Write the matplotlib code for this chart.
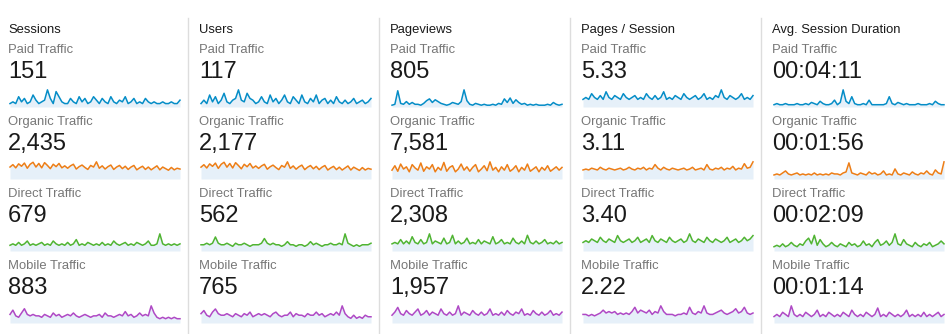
import matplotlib.pyplot as plt
from matplotlib.lines import Line2D
import numpy as np

plt.rcParams['font.family'] = ['Liberation Sans', 'DejaVu Sans']

W, H = 951, 334

metrics = ["Sessions", "Users", "Pageviews", "Pages / Session", "Avg. Session Duration"]
segments = ["Paid Traffic", "Organic Traffic", "Direct Traffic", "Mobile Traffic"]
seg_colors = ["#058dc7", "#ed7e17", "#50b432", "#af49c5"]

# totals shown under each segment label
sessions_totals = ["151", "2,435", "679", "883"]
users_totals = ["117", "2,177", "562", "765"]
pageviews_totals = ["805", "7,581", "2,308", "1,957"]
pps_totals = ["5.33", "3.11", "3.40", "2.22"]
duration_totals = ["00:04:11", "00:01:56", "00:02:09", "00:01:14"]

# daily values for the sparklines
sessions_paid = [2,3,2,6,3,5,2,3,7,4, 2,3,4,10,5,2,9,6,3,2, 2,5,3,2,6,3,5,2,3,6,
                 4,2,5,3,2,6,3,2,4,3, 6,2,3,5,2,3,2,5,3,2, 3,2,2,3,2,2,3,2,2,4]
sessions_organic = [30,36,28,38,32,40,27,37,42,30, 39,28,41,34,26,37,31,39,28,33,
                    27,33,37,25,31,35,29,24,34,30, 43,27,33,25,31,35,24,30,34,26,
                    32,24,30,34,23,28,32,24,30,23, 28,33,23,30,26,22,29,23,27,25]
sessions_direct = [4,5,4,6,4,5,7,4,5,4, 5,6,4,5,4,7,5,4,5,4, 6,4,5,8,4,5,4,6,5,4,
                   5,4,6,4,5,4,7,5,4,5, 6,4,5,4,6,5,4,5,7,4, 4,5,12,5,4,5,4,5,4,5]
sessions_mobile = [6,9,5,4,7,10,6,5,6,5, 5,4,6,5,4,7,5,6,4,5, 6,5,7,5,4,5,6,5,4,5,
                   5,6,4,7,5,5,4,5,6,5, 8,5,6,4,5,7,5,6,5,12, 7,4,3,4,3,4,3,4,3,3]

users_paid = [2,4,2,7,3,6,2,4,8,3, 2,4,5,10,4,3,8,5,4,2, 3,6,3,2,7,3,5,2,4,7,
              3,2,6,4,2,7,3,2,5,3, 7,2,4,5,2,4,2,6,3,2, 4,2,3,5,2,3,4,2,3,5]
users_organic = [29,35,27,37,31,39,26,36,41,29, 38,27,40,33,25,36,30,38,27,32,
                 26,32,36,24,30,34,28,23,33,29, 42,26,32,24,30,34,23,29,33,25,
                 31,23,29,33,22,27,31,23,29,22, 27,32,22,29,25,21,28,22,26,24]
users_direct = [4,4,5,4,5,9,5,4,4,5, 4,3,5,4,4,5,4,3,4,4, 4,5,8,5,4,5,4,4,3,4,
                6,4,4,3,4,4,3,4,6,4, 5,4,3,4,4,5,4,4,5,4, 11,5,4,3,4,3,4,4,4,5]
users_mobile = [6,8,5,4,7,9,6,5,5,6, 5,4,6,5,4,6,5,7,4,5, 6,5,6,5,4,6,7,5,4,5,
                5,7,4,6,5,5,4,6,5,5, 7,5,6,4,5,6,5,7,5,11, 6,4,3,5,3,4,3,5,4,4]

pageviews_paid = [2,3,18,4,3,6,3,5,3,3, 2,4,7,9,5,8,6,4,3,2, 3,5,4,3,6,19,7,3,2,4,
                  3,2,3,2,2,3,2,4,3,9, 5,10,4,8,5,3,4,2,3,2, 3,2,2,2,3,2,5,3,2,3]
pageviews_organic = [16,24,14,27,18,22,13,26,20,16, 29,14,22,18,26,13,21,16,30,14,
                     21,24,13,18,27,16,22,14,21,26, 13,18,24,15,31,16,21,13,22,16,
                     26,14,18,24,13,21,16,27,14,18, 22,13,21,16,24,14,18,22,16,21]
pageviews_direct = [5,6,5,8,5,7,5,10,6,5, 8,5,6,12,5,7,6,5,9,5, 6,11,5,7,5,6,9,5,6,5,
                    8,5,7,6,5,10,5,6,8,5, 6,5,9,6,5,7,5,11,6,5, 7,5,6,8,5,6,5,7,5,6]
pageviews_mobile = [5,7,10,6,5,8,6,5,7,9, 5,6,8,5,7,6,5,9,6,5, 7,5,6,11,5,7,6,5,8,6,
                    5,7,5,6,9,5,6,5,7,5, 8,6,5,7,6,9,5,6,5,8, 6,5,7,5,6,8,5,6,5,7]

pps_paid = [4,5,4,7,5,4,6,4,8,5, 4,6,5,4,7,5,4,5,6,4, 5,4,7,5,4,6,4,5,8,4,
            5,4,6,5,4,7,5,4,5,6, 4,5,7,4,5,4,6,5,9,5, 4,6,5,4,5,7,4,5,4,6]
pps_organic = [10,11,10,12,11,10,13,11,10,12, 11,10,11,12,10,11,13,11,10,12,
               11,13,10,12,11,16,12,10,13,11, 10,12,11,10,11,12,10,11,13,10,
               11,12,10,16,11,10,12,11,13,10, 12,11,14,10,12,11,17,12,13,19]
pps_direct = [5,6,5,7,6,5,8,6,5,7, 6,5,9,6,5,6,7,5,6,8, 5,6,7,5,9,6,5,7,6,5,
              8,6,5,6,7,5,6,10,6,5, 7,6,5,8,6,5,7,6,5,6, 8,5,6,7,5,6,8,6,7,9]
pps_mobile = [6,6,5,6,5,6,7,9,7,8, 7,8,6,7,6,7,6,8,11,7, 9,8,7,9,6,8,7,12,8,6,
              6,6,5,6,6,7,6,11,7,6, 8,7,12,7,6,6,7,8,9,7, 6,7,8,10,7,8,11,7,6,7]

duration_paid = [2,3,2,2,3,2,2,2,3,2, 2,3,2,4,3,2,5,3,2,2, 3,6,2,4,15,5,3,9,3,2,
                 2,3,2,6,2,2,2,2,2,3, 9,3,2,4,3,2,3,2,2,2, 3,2,2,2,3,2,5,3,2,2]
duration_organic = [4,5,4,6,8,5,4,5,6,4, 5,4,5,4,6,4,5,4,5,4, 6,5,5,4,6,7,16,6,5,4,
                    6,5,4,7,5,6,4,5,8,4, 5,4,10,5,4,6,5,4,7,5, 4,6,5,8,5,4,9,6,5,17]
duration_direct = [3,4,3,5,3,4,6,4,3,5, 4,7,9,5,11,4,8,5,3,4, 6,4,3,5,4,3,6,4,5,3,
                   4,7,4,5,3,6,8,4,5,7, 4,6,12,5,4,8,5,4,3,6, 4,3,5,4,6,3,4,5,7,5]
duration_mobile = [3,4,3,5,4,3,8,4,3,4, 3,5,4,3,4,6,3,4,3,5, 4,3,4,3,5,4,3,6,4,3,
                   4,3,5,4,3,4,7,3,4,3, 5,4,3,4,3,4,6,3,4,3, 4,3,5,3,4,3,4,5,3,4]

totals = [sessions_totals, users_totals, pageviews_totals, pps_totals, duration_totals]
series = [
    [sessions_paid, sessions_organic, sessions_direct, sessions_mobile],
    [users_paid, users_organic, users_direct, users_mobile],
    [pageviews_paid, pageviews_organic, pageviews_direct, pageviews_mobile],
    [pps_paid, pps_organic, pps_direct, pps_mobile],
    [duration_paid, duration_organic, duration_direct, duration_mobile],
]

fig = plt.figure(figsize=(W / 100, H / 100), dpi=100)
fig.patch.set_facecolor('white')


def fx(px):
    return px / W


def fy(py):
    return 1 - py / H


col_w = 191
row_h = 72
for j, metric in enumerate(metrics):
    x0 = 8 + col_w * j
    fig.text(fx(x0), fy(33), metric, fontsize=9.4, color='#1a1a1a', va='baseline')
    if j > 0:
        fig.add_artist(Line2D([fx(x0 - 11)] * 2, [fy(18), fy(334)],
                              color='#dddddd', lw=1))
    for i, seg in enumerate(segments):
        y0 = row_h * i
        fig.text(fx(x0), fy(53 + y0), seg, fontsize=9.4, color='#777777', va='baseline')
        fig.text(fx(x0), fy(78 + y0), totals[j][i], fontsize=17, color='#1a1a1a',
                 va='baseline')

        vals = np.array(series[j][i], dtype=float)
        xs = np.arange(len(vals))
        ax = fig.add_axes([fx(x0 + 2), fy(107 + y0), fx(170), 18 / H])
        ax.fill_between(xs, vals, 0, color='#e6f0f9', lw=0)
        ax.plot(xs, vals, color=seg_colors[i], lw=1.1, clip_on=False)
        ax.set_xlim(0, len(vals) - 1)
        ax.set_ylim(0, vals.max() * 1.05)
        ax.axis('off')

fig.savefig('out.png', dpi=100, facecolor='white')
